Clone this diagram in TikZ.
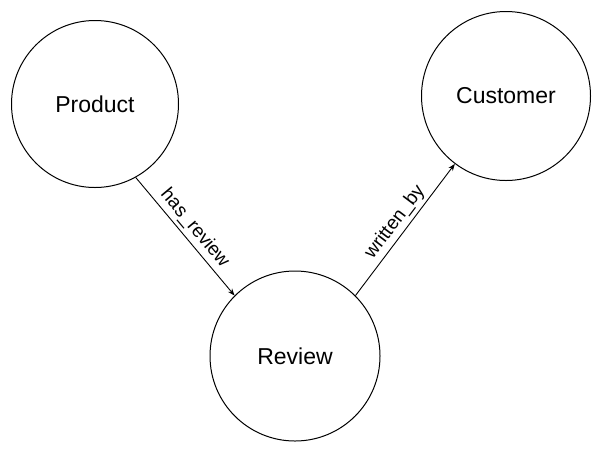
\documentclass[tikz,border=0pt]{standalone}
\usepackage{fontspec}
\setmainfont{Liberation Sans}
\usetikzlibrary{arrows.meta}
\tikzset {>=Stealth}
\tikzset{entity/.style={draw,circle,line width=1pt,font=\fontsize{23}{27}\selectfont},
  rel/.style={->,line width=0.9pt},
  rellabel/.style={font=\fontsize{19}{22}\selectfont,sloped,above}}
\begin{document}
\begin{tikzpicture}[x=1pt,y=-1pt]
\useasboundingbox (0,0) rectangle (601,451);
\node[entity,minimum size=167pt] (product)  at (95,104)  {Product};
\node[entity,minimum size=169pt] (customer) at (506,96)  {Customer};
\node[entity,minimum size=170pt] (review)   at (295,356) {Review};
\draw[rel] (product.-61) -- node[rellabel] {has\_review} (review.135);
\draw[rel] (review.45) -- node[rellabel] {written\_by} (customer.233);
\end{tikzpicture}
\end{document}
